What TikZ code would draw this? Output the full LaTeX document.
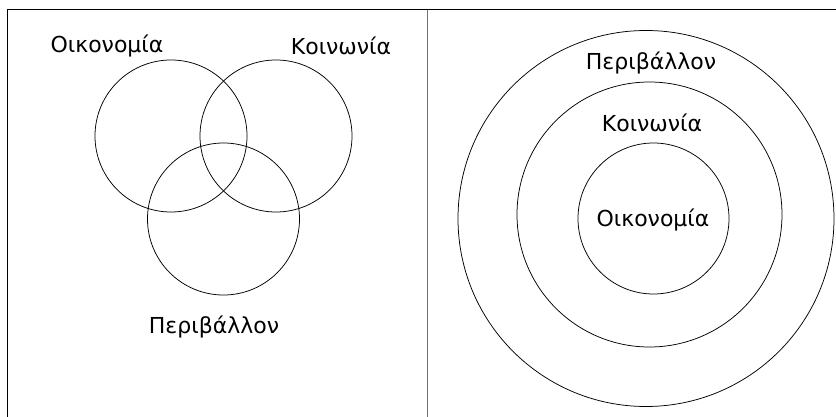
\documentclass[tikz,border=0pt]{standalone}
\usepackage{fontspec}
\setmainfont{DejaVu Sans}

\tikzset{
  ring/.style={draw=black,line width=0.75pt},
  lbl/.style={font=\fontsize{22}{26}\selectfont,inner sep=0pt}
}

\begin{document}
\begin{tikzpicture}[x=1pt,y=-1pt]
   \useasboundingbox (0,0) rectangle (836,417);
   % frame
   \draw[line width=1pt] (7,417) -- (7,10) -- (836,10);
   \draw[line width=1pt,color=black!55] (427,10) -- (427,417);
   % left: three overlapping circles
   \draw[ring] (171,136) circle (76);
   \draw[ring] (276,136) circle (76);
   \draw[ring] (223.5,219) circle (76);
   \node[lbl] (econL) at (107,46) {Οικονομία};
   \node[lbl] (socL) at (341,46) {Κοινωνία};
   \node[lbl] (envL) at (214,327) {Περιβάλλον};
   % right: nested circles
   \draw[ring] (646,218.5) circle (188);
   \draw[ring] (649.5,214.5) circle (132.5);
   \draw[ring] (653.5,218.5) circle (75.5);
   \node[lbl] (envR) at (651,63) {Περιβάλλον};
   \node[lbl] (socR) at (652,123) {Κοινωνία};
   \node[lbl] (econR) at (653,220) {Οικονομία};
\end{tikzpicture}
\end{document}
